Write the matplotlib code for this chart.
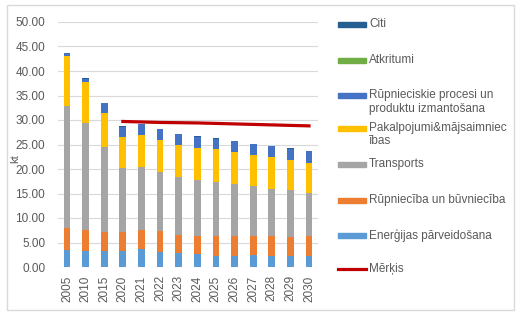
import matplotlib.pyplot as plt
from matplotlib.patches import Rectangle
from matplotlib.lines import Line2D
import numpy as np

years = ["2005", "2010", "2015"] + [str(y) for y in range(2020, 2031)]

# stacked from bottom to top (kt)
energija = [3.55, 3.35, 3.35, 3.35, 3.65, 3.05, 2.8, 2.65, 2.3, 2.3, 2.4, 2.25, 2.25, 2.25]
rupnieciba = [4.4, 4.15, 3.8, 3.8, 3.9, 4.2, 3.75, 3.75, 4.1, 4.1, 4.0, 4.1, 3.95, 4.1]
transports = [25.0, 21.8, 17.35, 13.0, 12.8, 12.2, 11.8, 11.35, 10.95, 10.6, 10.2, 9.65, 9.45, 8.75]
pakalpojumi = [10.1, 8.55, 7.0, 6.4, 6.55, 6.45, 6.6, 6.6, 6.65, 6.5, 6.3, 6.4, 6.15, 6.2]
procesi = [0.55, 0.6, 1.95, 2.05, 2.25, 2.25, 2.15, 2.2, 2.2, 2.15, 2.15, 2.25, 2.3, 2.35]
atkritumi = [0.01, 0.01, 0.01, 0.01, 0.01, 0.01, 0.01, 0.01, 0.01, 0.01, 0.01, 0.06, 0.01, 0.01]
citi = [0.1, 0.08, 0.08, 0.08, 0.08, 0.08, 0.08, 0.08, 0.08, 0.08, 0.08, 0.08, 0.08, 0.08]

merkis_years = [str(y) for y in range(2020, 2031)]
merkis = [29.7, 29.6, 29.5, 29.45, 29.4, 29.3, 29.2, 29.1, 29.0, 28.9, 28.8]

series = [
    ("Enerģijas pārveidošana", energija, "#5B9BD5"),
    ("Rūpniecība un būvniecība", rupnieciba, "#ED7D31"),
    ("Transports", transports, "#A5A5A5"),
    ("Pakalpojumi&mājsaimniec\nības", pakalpojumi, "#FFC000"),
    ("Rūpnieciskie procesi un\nproduktu izmantošana", procesi, "#4472C4"),
    ("Atkritumi", atkritumi, "#70AD47"),
    ("Citi", citi, "#255E91"),
]

txt = "#595959"
plt.rcParams["font.family"] = ["Liberation Sans", "DejaVu Sans"]

fig = plt.figure(figsize=(5.22, 3.24), dpi=100)
fig.patches.append(Rectangle((7 / 522, 1 - 310 / 324), 507 / 522, 305 / 324,
                             transform=fig.transFigure, fill=False,
                             edgecolor="#D9D9D9", linewidth=1))

ax = fig.add_axes([57.7 / 522, 57 / 324, 260.6 / 522, 245 / 324])
x = np.arange(len(years))
bottom = np.zeros(len(years))
for name, vals, col in series:
    ax.bar(x, vals, 0.36, bottom=bottom, color=col, zorder=3)
    bottom += np.array(vals)

mx = [years.index(y) for y in merkis_years]
ax.plot(mx, merkis, color="#C00000", linewidth=2.3, zorder=4)

ax.set_xlim(-0.5, len(years) - 0.5)
ax.set_ylim(0, 50)
ax.set_yticks(np.arange(0, 51, 5))
ax.set_yticklabels([f"{v:.2f}" for v in np.arange(0, 51, 5)])
ax.set_xticks(x)
ax.set_xticklabels(years, rotation=90)
ax.tick_params(axis="y", length=0, labelsize=8.5, colors=txt, pad=9)
ax.tick_params(axis="x", length=0, labelsize=8.5, colors=txt, pad=6)
ax.grid(axis="y", color="#D9D9D9", linewidth=0.8, zorder=0)
for s in ax.spines.values():
    s.set_visible(False)
fig.text(15 / 522, 1 - 159 / 324, "kt", rotation=90, ha="center", va="center",
         fontsize=8, color=txt)

# legend, drawn by hand to follow the spacing of the original
leg_y = [24.3, 60.7, 95.7, 128, 164.7, 200, 235, 269.3]
entries = list(reversed(series)) + [("Mērķis", None, "#C00000")]
for (name, vals, col), yy in zip(entries, leg_y):
    fy = 1 - yy / 324
    if vals is None:
        fig.lines.append(Line2D([338 / 522, 366 / 522], [fy, fy], color=col,
                                linewidth=2.3, transform=fig.transFigure))
    else:
        fig.patches.append(Rectangle((338 / 522, fy - 2.5 / 324), 28 / 522, 5 / 324,
                                     transform=fig.transFigure, color=col))
    fig.text(369 / 522, fy + 6.5 / 324, name, ha="left", va="top", fontsize=8.5,
             color=txt, linespacing=1.2)

fig.savefig("out.png", dpi=100)
